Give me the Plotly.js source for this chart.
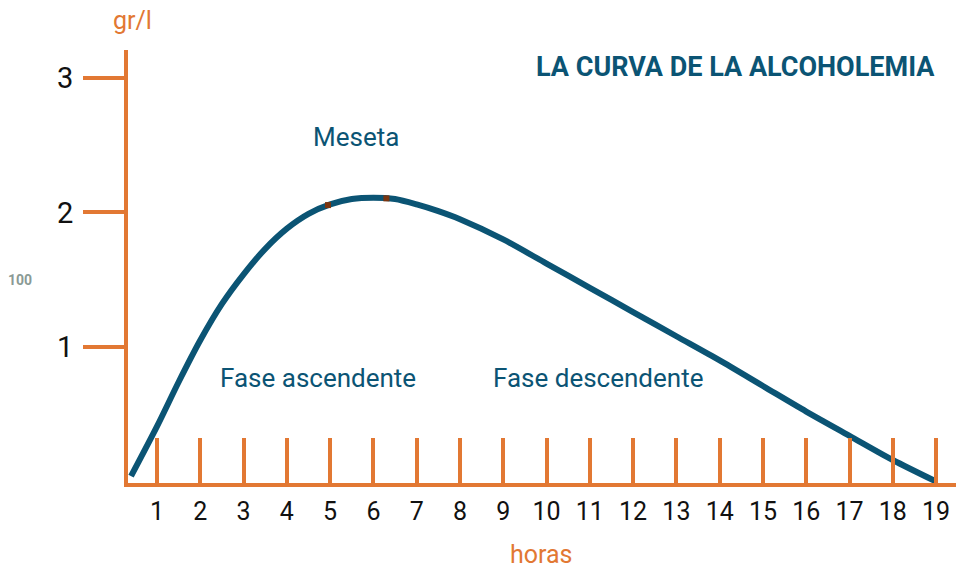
<!DOCTYPE html>
<html>
<head>
<meta charset="utf-8">
<script src="https://cdn.plot.ly/plotly-3.0.1.min.js"></script>
<style>
  html, body { margin: 0; padding: 0; background: #ffffff; }
  #chart { width: 956px; height: 568px; }
</style>
</head>
<body>
<div id="chart"></div>
<script>
// ---- data ----
const hours = [0.4, 1, 1.5, 2, 2.5, 3, 3.5, 4, 4.5, 5, 5.5, 6, 6.5, 7, 7.5, 8, 9, 10, 11, 12, 13, 14, 15, 16, 17, 18, 19];
const alcohol = [0.04, 0.41, 0.74, 1.05, 1.32, 1.54, 1.73, 1.88, 1.99, 2.06, 2.10, 2.11, 2.10, 2.06, 2.01, 1.95, 1.80, 1.62, 1.44, 1.26, 1.08, 0.90, 0.71, 0.52, 0.34, 0.16, 0.0];
const plateauHours = [4.95, 6.3];
const plateauValues = [2.055, 2.105];
const xTickVals = [1,2,3,4,5,6,7,8,9,10,11,12,13,14,15,16,17,18,19];
const xTickText = ['1','2','3','4','5','6','7','8','9','10','11','12','13','14','15','16','17','18','19'];
const yTickVals = [1, 2, 3];
const yTickText = ['1', '2', '3'];
const chartTitle = 'LA CURVA DE LA ALCOHOLEMIA';
const phaseLabels = ['Meseta', 'Fase ascendente', 'Fase descendente'];
const phaseX = [5.6, 4.73, 11.2];
const phaseY = [2.56, 0.77, 0.77];

const ORANGE = '#E27833';
const TEAL = '#0B5474';
const FONT = 'Roboto, "Open Sans", sans-serif';

const traces = [
  {
    x: hours, y: alcohol, type: 'scatter', mode: 'lines',
    line: { color: TEAL, width: 6, shape: 'spline', smoothing: 0.8 },
    hoverinfo: 'skip', showlegend: false
  },
  {
    x: plateauHours, y: plateauValues, type: 'scatter', mode: 'markers',
    marker: { color: '#7A3510', size: 6, symbol: 'square' },
    hoverinfo: 'skip', showlegend: false
  }
];

const annotations = phaseLabels.map((t, i) => ({
  text: t, x: phaseX[i], y: phaseY[i], xref: 'x', yref: 'y',
  showarrow: false, xanchor: 'center', yanchor: 'middle',
  font: { family: FONT, size: 26, color: TEAL }
}));
annotations.push(
  { text: '<b>' + chartTitle + '</b>', x: 19.02, y: 3.08, xref: 'x', yref: 'y',
    showarrow: false, xanchor: 'right', yanchor: 'middle',
    font: { family: FONT, size: 27, color: TEAL } },
  { text: 'gr/l', x: 0.005, y: 1.069, xref: 'paper', yref: 'paper',
    showarrow: false, xanchor: 'center', yanchor: 'middle',
    font: { family: FONT, size: 25, color: ORANGE } },
  { text: 'horas', x: 0.499, y: -0.166, xref: 'paper', yref: 'paper',
    showarrow: false, xanchor: 'center', yanchor: 'middle',
    font: { family: FONT, size: 25, color: ORANGE } },
  { text: '<b>100</b>', x: -0.130, y: 0.469, xref: 'paper', yref: 'paper',
    showarrow: false, xanchor: 'center', yanchor: 'middle',
    font: { family: FONT, size: 14, color: '#8A9A95' } }
);

const layout = {
  width: 956, height: 568,
  margin: { l: 128, r: 0, t: 50, b: 85 },
  paper_bgcolor: '#ffffff', plot_bgcolor: '#ffffff',
  showlegend: false,
  xaxis: {
    range: [0.33, 19.46], showgrid: false, zeroline: false,
    showline: true, linecolor: ORANGE, linewidth: 4,
    ticks: 'inside', ticklen: 45, tickwidth: 4, tickcolor: ORANGE,
    tickmode: 'array', tickvals: xTickVals, ticktext: xTickText,
    tickfont: { family: FONT, size: 25, color: '#111111' },
    ticklabelstandoff: 3
  },
  yaxis: {
    range: [-0.011, 3.208], showgrid: false, zeroline: false,
    showline: true, linecolor: ORANGE, linewidth: 4,
    ticks: 'outside', ticklen: 41, tickwidth: 4, tickcolor: ORANGE,
    tickmode: 'array', tickvals: yTickVals, ticktext: yTickText,
    tickfont: { family: FONT, size: 29, color: '#111111' },
    ticklabelstandoff: 4
  },
  annotations: annotations
};

Plotly.newPlot('chart', traces, layout, { staticPlot: true, displayModeBar: false });
</script>
</body>
</html>
